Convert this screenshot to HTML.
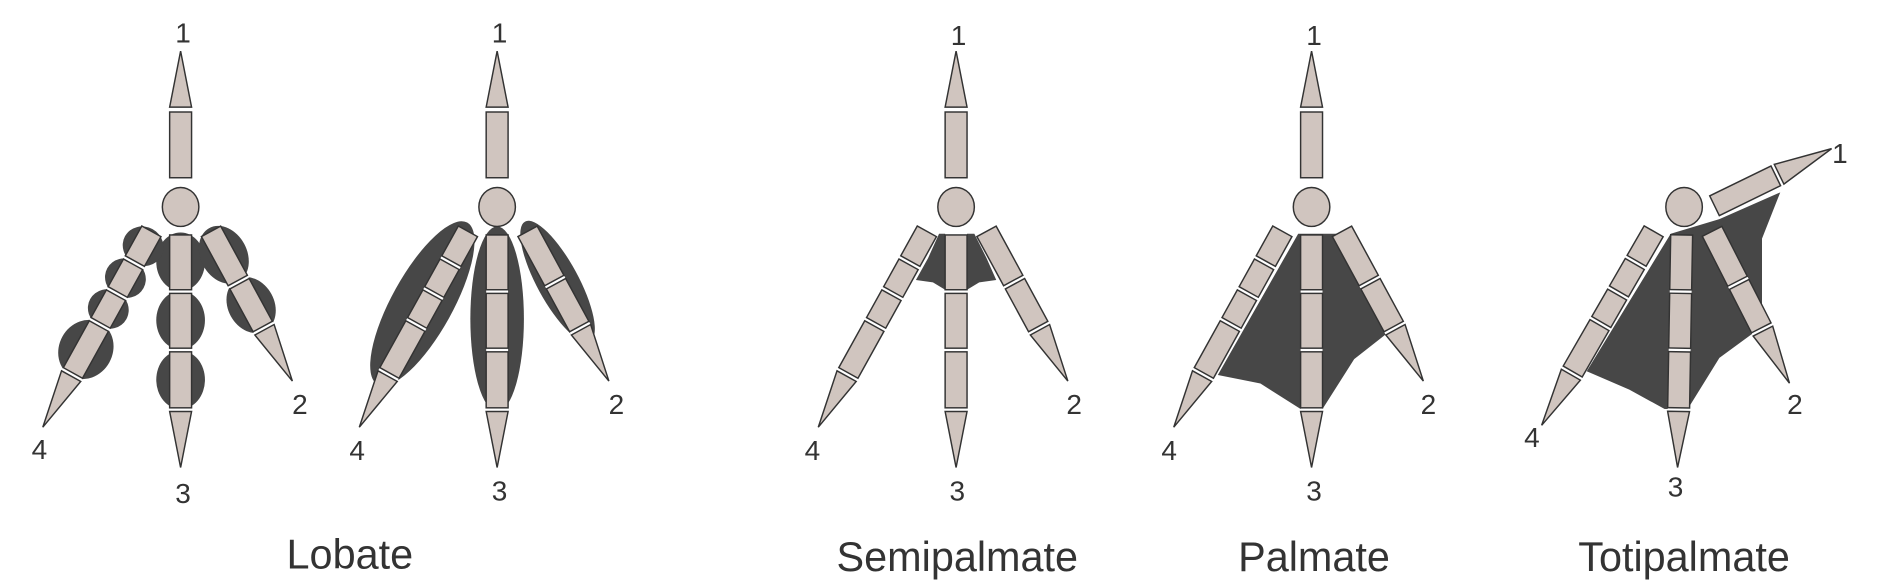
<!DOCTYPE html>
<html><head><meta charset="utf-8"><style>
html,body{margin:0;padding:0;background:#fff;}
svg{display:block;}
text{font-family:"Liberation Sans",Arial,sans-serif;fill:#333;}
</style></head><body>
<svg width="1900" height="588" viewBox="0 0 1560 483" xmlns="http://www.w3.org/2000/svg">
<defs>
  <g id="top">
    <polygon points="-9,88 9,88 0,42" />
    <rect x="-9" y="92" width="18" height="54"/>
  </g>
  <g id="mid">
    <rect x="-9" y="0" width="18" height="145" fill="#fff" stroke="none"/>
    <rect x="-9" y="0" width="18" height="45"/>
    <rect x="-9" y="48" width="18" height="45"/>
    <rect x="-9" y="96" width="18" height="46"/>
    <polygon points="-9,145 9,145 0,191"/>
  </g>
  <g id="t2">
    <rect x="-9" y="0" width="18" height="92" fill="#fff" stroke="none"/>
    <rect x="-9" y="0" width="18" height="46"/>
    <rect x="-9" y="49" width="18" height="40"/>
    <polygon points="-9,92 9,92 0,140"/>
  </g>
  <g id="t4">
    <rect x="-9" y="0" width="18" height="136" fill="#fff" stroke="none"/>
    <rect x="-9" y="0" width="18" height="28"/>
    <rect x="-9" y="31" width="18" height="26"/>
    <rect x="-9" y="60" width="18" height="26"/>
    <rect x="-9" y="89" width="18" height="44"/>
    <polygon points="-9,136 9,136 0,184"/>
  </g>
</defs>

<g fill="#d0c5bf" stroke="#333" stroke-width="1.2">

<!-- Foot 1: lobate -->
<g fill="#474747" stroke="none">
  <ellipse cx="148" cy="215" rx="20" ry="24"/>
  <ellipse cx="148" cy="263" rx="20" ry="24"/>
  <ellipse cx="148" cy="312" rx="20" ry="24"/>
  <g transform="translate(173,190) rotate(-28.5)">
    <ellipse cx="0" cy="22" rx="19" ry="25"/>
    <ellipse cx="0" cy="69" rx="19" ry="24"/>
  </g>
  <g transform="translate(124,190) rotate(29)">
    <ellipse cx="0" cy="14" rx="17" ry="16"/>
    <ellipse cx="0" cy="44" rx="17" ry="16"/>
    <ellipse cx="0" cy="73" rx="17" ry="16"/>
    <ellipse cx="0" cy="111" rx="22" ry="25"/>
  </g>
</g>
<use href="#top" transform="translate(148,0)"/>
<ellipse cx="148" cy="170" rx="15" ry="16"/>
<use href="#mid" transform="translate(148,193)"/>
<use href="#t2" transform="translate(173,190) rotate(-28.5)"/>
<use href="#t4" transform="translate(124,190) rotate(29)"/>

<!-- Foot 2: lobate elongated -->
<g fill="#474747" stroke="none">
  <ellipse cx="408" cy="262" rx="22" ry="76"/>
  <g transform="translate(433,190) rotate(-28.5)">
    <ellipse cx="2" cy="48" rx="17" ry="56"/>
  </g>
  <g transform="translate(384,190) rotate(29)">
    <ellipse cx="-4" cy="70" rx="25" ry="76"/>
  </g>
</g>
<use href="#top" transform="translate(408,0)"/>
<ellipse cx="408" cy="170" rx="15" ry="16"/>
<use href="#mid" transform="translate(408,193)"/>
<use href="#t2" transform="translate(433,190) rotate(-28.5)"/>
<use href="#t4" transform="translate(384,190) rotate(29)"/>

<!-- Foot 3: semipalmate -->
<g fill="#474747" stroke="none">
  <polygon points="771,192 776,192 776,238 766,232 752,230 762,212"/>
  <polygon points="794,192 800,192 810,212 818,230 804,232 794,238"/>
</g>
<use href="#top" transform="translate(785,0)"/>
<ellipse cx="785" cy="170" rx="15" ry="16"/>
<use href="#mid" transform="translate(785,193)"/>
<use href="#t2" transform="translate(810,190) rotate(-28.5)"/>
<use href="#t4" transform="translate(761,190) rotate(29)"/>

<!-- Foot 4: palmate -->
<polygon fill="#474747" stroke="none" points="1066,192 1000,308 1035,315 1068,336 1086,336 1112,295 1140,273 1098,192"/>
<use href="#top" transform="translate(1077,0)"/>
<ellipse cx="1077" cy="170" rx="15" ry="16"/>
<use href="#mid" transform="translate(1077,193)"/>
<use href="#t2" transform="translate(1102,190) rotate(-28.5)"/>
<use href="#t4" transform="translate(1053,190) rotate(29)"/>

<!-- Foot 5: totipalmate -->
<polygon fill="#474747" stroke="none" points="1372,192 1303,305 1338,320 1367,336 1386,336 1412,294 1442,272 1447,260 1447,196 1462,158 1412,180"/>
<g transform="translate(1408,169) rotate(-116)">
  <rect x="-9" y="0" width="18" height="56"/>
  <polygon points="-9,59 9,59 0,107"/>
</g>
<ellipse cx="1383" cy="170" rx="15" ry="16"/>
<use href="#mid" transform="translate(1381,193) rotate(1)"/>
<use href="#t2" transform="translate(1406,190) rotate(-27)"/>
<use href="#t4" transform="translate(1358,190) rotate(30)"/>
</g>

<!-- Labels -->
<g font-size="23" text-anchor="middle">
  <text x="150" y="35">1</text><text x="246" y="340">2</text><text x="150" y="413">3</text><text x="32" y="377">4</text>
  <text x="410" y="35">1</text><text x="506" y="340">2</text><text x="410" y="411">3</text><text x="293" y="378">4</text>
  <text x="787" y="37">1</text><text x="882" y="340">2</text><text x="786" y="411">3</text><text x="667" y="378">4</text>
  <text x="1079" y="37">1</text><text x="1173" y="340">2</text><text x="1079" y="411">3</text><text x="960" y="378">4</text>
  <text x="1511" y="134">1</text><text x="1474" y="340">2</text><text x="1376" y="408">3</text><text x="1258" y="367">4</text>
</g>
<g font-size="34" text-anchor="middle">
  <text x="287" y="467">Lobate</text>
  <text x="786" y="469">Semipalmate</text>
  <text x="1079" y="469">Palmate</text>
  <text x="1383" y="469">Totipalmate</text>
</g>
</svg>
</body></html>
